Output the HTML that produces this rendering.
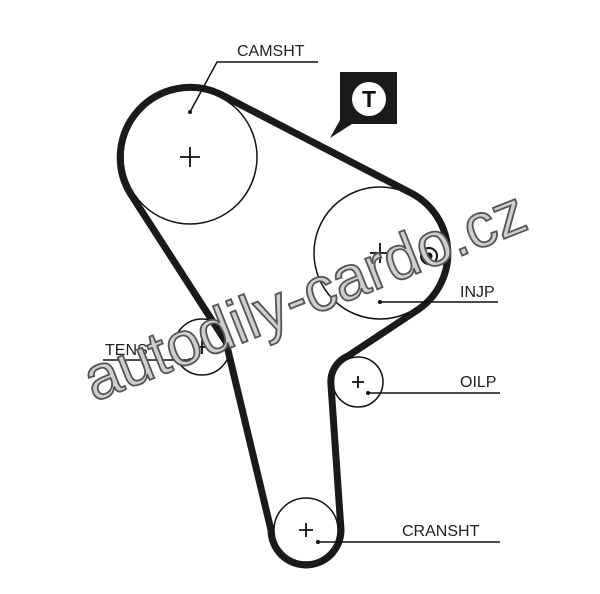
<!DOCTYPE html>
<html><head><style>html,body{margin:0;padding:0;background:#fff}</style></head>
<body>
<svg width="600" height="589" viewBox="0 0 600 589" xmlns="http://www.w3.org/2000/svg" font-family="Liberation Sans, sans-serif">
<rect width="600" height="589" fill="#fff"/>
<g fill="none" stroke="#111" stroke-width="1.5">
<circle cx="190" cy="157" r="67"/>
<circle cx="380" cy="253" r="66"/>
<circle cx="202" cy="347" r="28"/>
<circle cx="358" cy="382" r="25"/>
<circle cx="306" cy="530" r="32"/>
</g>
<g stroke="#111" stroke-width="1.8">
<path d="M180 157h20M190 147v20"/>
<path d="M370 253h20M380 243v20"/>
<path d="M195 347h14M202 340v14"/>
<path d="M352 382h12M358 376v12"/>
<path d="M299 530h14M306 523v14"/>
</g>
<path d="M226 342 L130 193 A70 70 0 0 1 220 94 L409 192 A68 68 0 0 1 419 309 L348 356 A28 28 0 0 0 331 385 L341 530 A35 35 0 0 1 271 530 Z" fill="none" stroke="#1a1a1a" stroke-width="7" stroke-linejoin="round"/>
<circle cx="429" cy="256" r="8" fill="#fff" stroke="#111" stroke-width="2"/>
<circle cx="429" cy="256" r="3.5" fill="#111"/>
<g stroke="#111" stroke-width="1.5" fill="none">
<path d="M318 62H217L190 112"/>
<path d="M380 302H498"/>
<path d="M368 393H500"/>
<path d="M318 542H500"/>
<path d="M103 360H190"/>
</g>
<g fill="#111">
<circle cx="190" cy="112" r="2"/><circle cx="380" cy="302" r="2"/><circle cx="368" cy="393" r="2"/><circle cx="318" cy="542" r="2"/><circle cx="190" cy="360" r="2"/>
</g>
<g font-size="16" fill="#222">
<text x="237" y="56">CAMSHT</text>
<text x="460" y="297">INJP</text>
<text x="460" y="387">OILP</text>
<text x="402" y="536">CRANSHT</text>
<text x="105" y="355">TENS</text>
</g>
<path d="M340 72H397V124H352L330 138L340 120Z" fill="#1a1a1a"/>
<circle cx="369" cy="99" r="17" fill="#fff"/>
<text x="369" y="107" font-size="23" font-weight="bold" text-anchor="middle" fill="#111">T</text>
<text x="0" y="0" transform="translate(94,402) rotate(-21.7)" font-size="62" textLength="470" lengthAdjust="spacingAndGlyphs" fill="#cfcfcf" stroke="#555" stroke-width="1.8">autodily-cardo.cz</text>
</svg>
</body></html>
